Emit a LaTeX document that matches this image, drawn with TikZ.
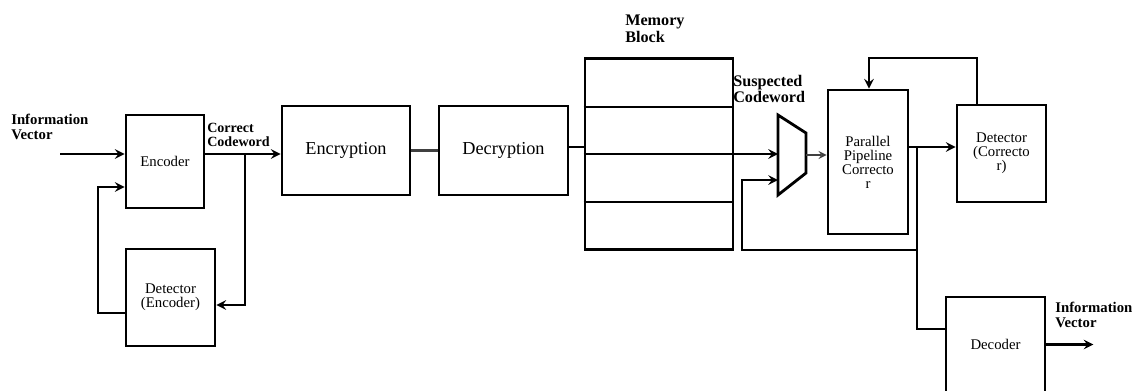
\documentclass[tikz,border=0pt]{standalone}
\usepackage{fontspec}
\setmainfont{Liberation Serif}
\usetikzlibrary{shapes, arrows, calc}

\begin{document}
\begin{tikzpicture}[
    x=0.025cm, y=-0.025cm,
    every node/.style={anchor=center, inner sep=0pt},
    block/.style={draw, line width=2pt, font=\fontsize{10.5}{10}\selectfont, align=center},
    big/.style={font=\fontsize{13}{13}\selectfont},
    tag/.style={anchor=west, align=left, font=\bfseries\fontsize{10.5}{10.5}\selectfont},
    to/.style={->, >=stealth, line width=2pt},
    thin/.style={line width=1.5pt, gray!50!black}
    ]

    \useasboundingbox (0,0) rectangle (1141,390);

    % blocks
    \node[block, minimum width=1.95cm, minimum height=2.325cm] (enc) at (165,161.5) {Encoder};
    \node[block, minimum width=2.225cm, minimum height=2.425cm] (dete) at (170.5,297.5) {Detector\\(Encoder)};
    \node[block, big, minimum width=3.2cm, minimum height=2.225cm] (encr) at (346,150.5) {Encryption};
    \node[block, big, minimum width=3.225cm, minimum height=2.225cm] (decr) at (503.5,150.5) {Decryption};
    \node[block, minimum width=3.7cm, minimum height=4.775cm] (mem) at (659,154) {};
    \foreach \y in {107,202}
        \draw[line width=1.5pt] (mem.west |- 0,\y) -- (mem.east |- 0,\y);
    \node[block, minimum width=2cm, minimum height=3.6cm] (corr) at (868,162) {Parallel\\Pipeline\\Correcto\\r};
    \node[block, minimum width=2.225cm, minimum height=2.425cm] (detc) at (1001.5,153.5) {Detector\\(Correcto\\r)};
    \node[block, minimum width=2.475cm, minimum height=2.375cm] (dec) at (995.5,344.5) {Decoder};

    % mux
    \draw[line width=2pt] (778,115) -- (806,133) -- (806,173) -- (778,195) -- cycle;
    \coordinate (in1) at (778,154);
    \coordinate (in2) at (778,180);
    \coordinate (mout) at (806,155);

    % labels
    \node[tag] (iv1) at (11,127) {Information\\Vector};
    \node[tag, font=\bfseries\fontsize{10}{10.5}\selectfont] (cc) at (207,135) {Correct\\Codeword};
    \node[tag, font=\bfseries\fontsize{11.5}{12}\selectfont] (mb) at (625,29) {Memory\\Block};
    \node[tag, font=\bfseries\fontsize{11.5}{12}\selectfont] (sc) at (733,89) {Suspected\\Codeword};
    \node[tag] (iv2) at (1055,315) {Information\\Vector};

    % connectors
    \coordinate (infrom) at (60,154);
    \draw[to] (infrom) -- (infrom -| enc.west);
    \coordinate (cw) at (245,154);
    \draw[to] (cw -| enc.east) -- (cw -| encr.west);
    \draw[to] (cw) |- ($(dete.east)+(0,7.5)$);
    \coordinate (lb) at (98,313);
    \coordinate (lt) at (98,187);
    \draw[to] (lb -| dete.west) -- (lb) -- (lt) -- (lt -| enc.west);
    \draw[thin] (encr) -- (decr);
    \coordinate (dm) at (585,147);
    \draw[line width=2pt] (dm -| decr.east) -- (dm -| mem.west);
    \draw[to] (mem.west) -- (in1);
    \draw[->, >=stealth, thin] (mout) -- (mout -| corr.west);
    \coordinate (tap) at (917,147);
    \draw[to] (tap -| corr.east) -- (tap -| detc.west);
    \coordinate (dd) at (917,329);
    \draw[line width=2pt] (tap) -- (dd) -- (dd -| dec.west);
    \coordinate (fb) at (917,250);
    \coordinate (fc) at (742,250);
    \draw[to] (fb) -- (fc) |- (in2);
    \coordinate (lp) at (977,58);
    \coordinate (lq) at (869,58);
    \draw[to] (lp |- detc.north) -- (lp) -- (lq) -- (lq |- corr.north);
    \draw[to] (dec.east) -- ++(47,0);

\end{tikzpicture}
\end{document}
